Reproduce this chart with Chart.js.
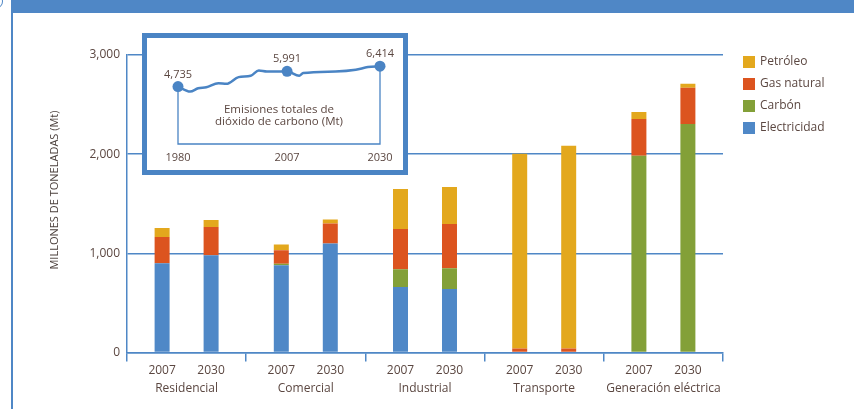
<!DOCTYPE html>
<html lang="es">
<head>
<meta charset="utf-8">
<title>Emisiones de dióxido de carbono por sector</title>
<script src="https://cdn.jsdelivr.net/npm/chart.js@4.4.1/dist/chart.umd.min.js"></script>
<style>
  html, body { margin: 0; padding: 0; background: #fff; }
  #wrap { position: relative; width: 854px; height: 409px; overflow: hidden; }
  #topbar { position: absolute; left: 12px; top: 0; width: 842px; height: 13px; background: #4f87c6; }
  #leftrule { position: absolute; left: 11px; top: 0; width: 2px; height: 409px; background: #4f87c6; }
  #corner { position: absolute; left: -9px; top: -5px; width: 10px; height: 11px; border: 1.5px solid #4f87c6; border-radius: 50%; }
  #sectors { position: absolute; left: 0; top: 0; }
  #inset { position: absolute; left: 142px; top: 33px; width: 256px; height: 132px; border: 5px solid #4a84c4; background: #fff; }
  #inset canvas { position: absolute; left: 0; top: 0; }
</style>
</head>
<body>
<div id="wrap">
  <canvas id="sectors" width="854" height="409"></canvas>
  <div id="topbar"></div>
  <div id="leftrule"></div>
  <div id="corner"></div>
  <div id="inset"><canvas id="co2" width="256" height="132"></canvas></div>
</div>

<script>
const sectors = ["Residencial", "Comercial", "Industrial", "Transporte", "Generación eléctrica"];
const years = ["2007", "2030"];
// stacked bottom -> top
const fuels = ["Electricidad", "Carbón", "Gas natural", "Petróleo"];
const fuelColors = ["#4f88c7", "#83a038", "#dc541f", "#e3a81d"];

// millones de toneladas por sector
const electricidad2007 = [900, 880, 660, 0, 0];
const electricidad2030 = [980, 1100, 640, 0, 0];
const carbon2007 = [0, 15, 180, 0, 1985];
const carbon2030 = [0, 0, 210, 0, 2305];
const gas2007 = [265, 135, 405, 40, 370];
const gas2030 = [285, 200, 445, 40, 365];
const petroleo2007 = [90, 60, 405, 1965, 70];
const petroleo2030 = [70, 40, 375, 2045, 40];

const yMax = 3000;
const yStep = 1000;

// emisiones totales (Mt)
const co2Years = [1980, 1983, 1985, 1987, 1990, 1992, 1995, 1998, 2000, 2002, 2004, 2007, 2010, 2011, 2019, 2024, 2027, 2030];
const co2Values = [4735, 4320, 4602, 4685, 5017, 4959, 5515, 5623, 6063, 5980, 5980, 5991, 5623, 5847, 5980, 6121, 6345, 6414];
const co2Marked = [1980, 2007, 2030];

const BLUE = "#4f87c6";
const TEXT = "#5b4741";
const FONT = "'Open Sans', sans-serif";

Chart.defaults.font.family = FONT;
Chart.defaults.color = TEXT;

/* ================= BARRAS POR SECTOR ================= */

const series = [
  [electricidad2007, carbon2007, gas2007, petroleo2007],
  [electricidad2030, carbon2030, gas2030, petroleo2030]
];

const datasets = [];
years.forEach((yr, y) => {
  fuels.forEach((fuel, f) => {
    datasets.push({
      label: fuel,
      stack: yr,
      data: series[y][f],
      backgroundColor: fuelColors[f],
      borderWidth: 0,
      categoryPercentage: 0.822,
      barPercentage: 0.306
    });
  });
});

// year under every bar
const yearLabels = {
  id: "yearLabels",
  afterDraw(chart) {
    const ctx = chart.ctx;
    ctx.save();
    ctx.font = "12px " + FONT;
    ctx.fillStyle = TEXT;
    ctx.textAlign = "center";
    ctx.textBaseline = "middle";
    years.forEach((yr, y) => {
      const meta = chart.getDatasetMeta(y * fuels.length);
      meta.data.forEach(bar => ctx.fillText(yr, bar.x, chart.chartArea.bottom + 18.5));
    });
    ctx.restore();
  }
};

// legend on the right, top fuel first
const sideLegend = {
  id: "sideLegend",
  afterDraw(chart) {
    const ctx = chart.ctx;
    ctx.save();
    ctx.font = "12px " + FONT;
    ctx.textBaseline = "middle";
    fuels.slice().reverse().forEach((fuel, i) => {
      const y = 62 + i * 22;
      ctx.fillStyle = fuelColors[fuels.indexOf(fuel)];
      ctx.fillRect(743, y - 6, 12, 12);
      ctx.fillStyle = TEXT;
      ctx.fillText(fuel, 760, y);
    });
    ctx.restore();
  }
};

const yTitle = {
  id: "yTitle",
  afterDraw(chart) {
    const ctx = chart.ctx;
    ctx.save();
    ctx.translate(55, 190);
    ctx.rotate(-Math.PI / 2);
    ctx.font = "11px " + FONT;
    ctx.fillStyle = "#4a3f3b";
    ctx.textAlign = "center";
    ctx.textBaseline = "middle";
    ctx.fillText("MILLONES DE TONELADAS (Mt)", 0, 0);
    ctx.restore();
  }
};

new Chart(document.getElementById("sectors"), {
  type: "bar",
  data: { labels: sectors, datasets },
  options: {
    responsive: false,
    animation: false,
    layout: { padding: { left: 0, top: 55, right: 131, bottom: 0 } },
    scales: {
      x: {
        stacked: true,
        grid: { offset: true, drawOnChartArea: false, drawTicks: true, tickLength: 9, color: BLUE, lineWidth: 1.5 },
        border: { color: BLUE, width: 1.5 },
        ticks: { padding: 20, font: { size: 12 }, color: TEXT, maxRotation: 0 },
        afterFit(scale) { scale.height = 56.5; }
      },
      y: {
        stacked: true,
        min: 0,
        max: yMax,
        ticks: { stepSize: yStep, padding: 7, font: { size: 12 }, color: TEXT },
        grid: { color: BLUE, lineWidth: 1.5, drawTicks: false },
        border: { color: BLUE, width: 1.5 },
        afterFit(scale) { scale.width = 127; }
      }
    },
    plugins: {
      legend: { display: false },
      tooltip: { enabled: false }
    }
  },
  plugins: [yearLabels, sideLegend, yTitle]
});

/* ================= RECUADRO CO2 ================= */

const bracket = {
  id: "bracket",
  beforeDatasetsDraw(chart) {
    const { ctx, scales: { x, y } } = chart;
    const n = co2Years.length - 1;
    const x1 = x.getPixelForValue(co2Years[0]);
    const x2 = x.getPixelForValue(co2Years[n]);
    const yb = y.getPixelForValue(0);
    ctx.save();
    ctx.strokeStyle = "#4a84c4";
    ctx.lineWidth = 1.3;
    ctx.beginPath();
    ctx.moveTo(x1, y.getPixelForValue(co2Values[0]));
    ctx.lineTo(x1, yb);
    ctx.lineTo(x2, yb);
    ctx.lineTo(x2, y.getPixelForValue(co2Values[n]));
    ctx.stroke();
    ctx.restore();
  }
};

const co2Text = {
  id: "co2Text",
  afterDraw(chart) {
    const { ctx, chartArea, scales: { x, y } } = chart;
    ctx.save();
    ctx.fillStyle = TEXT;
    ctx.textAlign = "center";
    ctx.textBaseline = "middle";
    ctx.font = "11px " + FONT;
    co2Marked.forEach(yr => {
      const v = co2Values[co2Years.indexOf(yr)];
      ctx.fillText(v.toLocaleString("en-US"), x.getPixelForValue(yr), y.getPixelForValue(v) - 12);
    });
    ctx.font = "11.5px " + FONT;
    const cx = (chartArea.left + chartArea.right) / 2;
    ctx.fillText("Emisiones totales de", cx, chartArea.top + 62.5);
    ctx.fillText("dióxido de carbono (Mt)", cx, chartArea.top + 75);
    ctx.restore();
  }
};

new Chart(document.getElementById("co2"), {
  type: "line",
  data: {
    datasets: [{
      data: co2Years.map((yr, i) => ({ x: yr, y: co2Values[i] })),
      borderColor: "#4a84c4",
      borderWidth: 2.5,
      cubicInterpolationMode: "monotone",
      clip: false,
      pointRadius: ctx => co2Marked.includes(co2Years[ctx.dataIndex]) ? 5.5 : 0,
      pointBackgroundColor: "#4a84c4",
      pointBorderWidth: 0
    }]
  },
  options: {
    responsive: false,
    animation: false,
    layout: { padding: { left: 31, right: 23, top: 9, bottom: 0 } },
    scales: {
      x: {
        type: "linear",
        min: co2Years[0],
        max: co2Years[co2Years.length - 1],
        afterBuildTicks(scale) { scale.ticks = co2Marked.map(v => ({ value: v })); },
        ticks: { callback: v => String(v), padding: 7, font: { size: 11 }, color: TEXT, maxRotation: 0 },
        grid: { display: false, drawTicks: false },
        border: { display: false },
        afterFit(scale) { scale.height = 26; }
      },
      y: { display: false, min: 0, max: 8000 }
    },
    plugins: {
      legend: { display: false },
      tooltip: { enabled: false }
    }
  },
  plugins: [bracket, co2Text]
});
</script>
</body>
</html>
